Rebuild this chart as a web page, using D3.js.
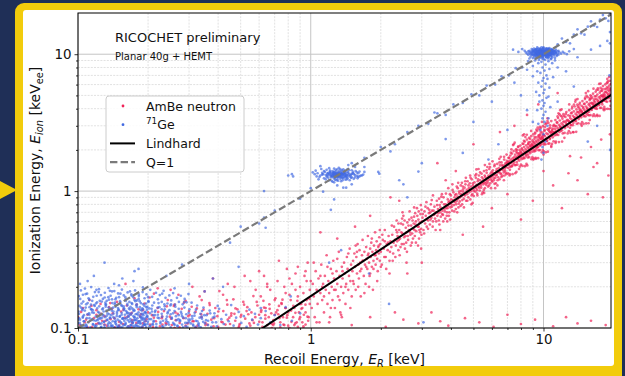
<!DOCTYPE html>
<html>
<head>
<meta charset="utf-8">
<script src="https://cdn.jsdelivr.net/npm/d3@7"></script>
<style>
  html, body { margin: 0; padding: 0; background: #1f2f57; }
  svg { display: block; font-family: "DejaVu Sans", sans-serif; }
</style>
</head>
<body>
<svg id="chart" width="625" height="376"></svg>
<script>
// ---- axes ----
const xTickValues = [0.1, 1, 10];
const xTickLabels = ["0.1", "1", "10"];
const yTickValues = [0.1, 1, 10];
const yTickLabels = ["0.1", "1", "10"];
const xDomain = [0.1, 19.5];
const yDomain = [0.1, 20];

// ---- model curves ----
const lindhardER   = [0.6, 1, 2, 3, 5, 10, 15, 20];
const lindhardEion = [0.096, 0.171, 0.375, 0.594, 1.06, 2.34, 3.73, 5.19];
const qOneER   = [0.1, 20];
const qOneEion = [0.1, 20];

// ---- AmBe neutron events [E_R, E_ion] ----
const ambeBand = [
[0.62,0.11],[0.64,0.14],[0.66,0.12],[0.67,0.19],[0.69,0.105],[0.7,0.16],[0.71,0.13],[0.72,0.22],[0.74,0.11],[0.75,0.15],[0.76,0.12],[0.78,0.18],[0.79,0.27],[0.8,0.13],[0.81,0.1],[0.82,0.16],[0.83,0.21],[0.84,0.12],[0.85,0.14],[0.86,0.25],[0.87,0.11],[0.88,0.17],[0.89,0.13],[0.9,0.2],[0.91,0.15],[0.92,0.11],[0.93,0.18],[0.94,0.24],[0.95,0.13],[0.96,0.16],[0.97,0.3],[0.98,0.12],[0.99,0.19],[0.63,0.24],[0.68,0.1],[0.73,0.31],[0.77,0.105],[0.86,0.19],[0.9,0.12],[0.96,0.22],
[1.01,0.14],[1.02,0.21],[1.03,0.17],[1.04,0.12],[1.05,0.26],[1.06,0.19],[1.07,0.15],[1.08,0.23],[1.09,0.11],[1.1,0.18],[1.11,0.29],[1.12,0.16],[1.13,0.21],[1.14,0.13],[1.15,0.24],[1.16,0.19],[1.17,0.34],[1.18,0.15],[1.19,0.22],[1.2,0.18],[1.21,0.12],[1.22,0.27],[1.23,0.2],[1.24,0.16],[1.25,0.31],[1.26,0.23],[1.27,0.14],[1.28,0.19],[1.29,0.26],[1.3,0.21],[1.31,0.17],[1.32,0.36],[1.33,0.24],[1.34,0.13],[1.35,0.2],[1.36,0.28],[1.37,0.23],[1.38,0.18],[1.39,0.3],[1.4,0.25],[1.41,0.15],[1.42,0.21],[1.43,0.33],[1.44,0.27],[1.45,0.19],[1.46,0.24],[1.47,0.38],[1.48,0.22],[1.49,0.29],[1.5,0.17],
[1.51,0.26],[1.52,0.31],[1.53,0.21],[1.54,0.35],[1.55,0.28],[1.56,0.19],[1.57,0.33],[1.58,0.25],[1.59,0.41],[1.6,0.29],[1.61,0.23],[1.62,0.37],[1.63,0.3],[1.64,0.17],[1.65,0.27],[1.66,0.34],[1.67,0.44],[1.68,0.31],[1.69,0.24],[1.7,0.36],[1.71,0.29],[1.72,0.21],[1.73,0.39],[1.74,0.32],[1.75,0.27],[1.76,0.47],[1.77,0.35],[1.78,0.3],[1.79,0.24],[1.8,0.38],[1.81,0.33],[1.82,0.42],[1.83,0.28],[1.84,0.36],[1.85,0.19],[1.86,0.31],[1.87,0.4],[1.88,0.34],[1.89,0.5],[1.9,0.29],[1.91,0.37],[1.92,0.43],[1.93,0.32],[1.94,0.26],[1.95,0.39],[1.96,0.35],[1.97,0.46],[1.98,0.31],[1.99,0.41],[2.0,0.36],[2.02,0.29],[2.04,0.44],[2.06,0.38],[2.08,0.52],[2.1,0.33],[2.12,0.41],[2.14,0.37],[2.16,0.47],[2.18,0.31],[2.2,0.43],
[2.22,0.39],[2.24,0.48],[2.26,0.35],[2.28,0.55],[2.3,0.44],[2.32,0.4],[2.34,0.61],[2.36,0.47],[2.38,0.37],[2.4,0.52],[2.42,0.45],[2.44,0.58],[2.46,0.41],[2.48,0.49],[2.5,0.66],[2.52,0.46],[2.54,0.38],[2.56,0.54],[2.58,0.5],[2.6,0.59],[2.62,0.44],[2.64,0.52],[2.66,0.71],[2.68,0.48],[2.7,0.56],[2.72,0.42],[2.74,0.61],[2.76,0.53],[2.78,0.65],[2.8,0.47],[2.82,0.57],[2.84,0.51],[2.86,0.75],[2.88,0.55],[2.9,0.62],[2.92,0.45],[2.94,0.59],[2.96,0.68],[2.98,0.53],[3.0,0.6],[2.25,0.31],[2.33,0.52],[2.41,0.34],[2.49,0.57],[2.57,0.42],[2.65,0.62],[2.73,0.49],[2.81,0.69],[2.89,0.4],[2.97,0.79],[2.35,0.43],[2.53,0.61],[2.69,0.4],[2.83,0.6],[2.93,0.52],[2.45,0.5],[2.61,0.47],[2.77,0.58],[2.91,0.71],[2.99,0.48],
[3.02,0.64],[3.05,0.52],[3.08,0.71],[3.1,0.58],[3.12,0.66],[3.15,0.55],[3.18,0.75],[3.2,0.61],[3.22,0.69],[3.25,0.57],[3.28,0.8],[3.3,0.64],[3.32,0.72],[3.35,0.6],[3.38,0.67],[3.4,0.77],[3.42,0.63],[3.45,0.7],[3.48,0.85],[3.5,0.66],[3.52,0.74],[3.55,0.61],[3.58,0.79],[3.6,0.7],[3.62,0.65],[3.65,0.83],[3.68,0.72],[3.7,0.67],[3.72,0.9],[3.75,0.74],[3.78,0.63],[3.8,0.8],[3.82,0.75],[3.85,0.7],[3.88,0.87],[3.9,0.78],[3.92,0.66],[3.95,0.84],[3.98,0.76],[4.0,0.93],[4.02,0.8],[4.05,0.72],[4.08,0.86],[4.1,0.98],[4.12,0.79],[4.15,0.9],[4.18,0.83],[4.2,0.74],[4.22,0.95],[4.25,0.85],[4.28,1.05],[4.3,0.88],[4.32,0.81],[4.35,0.96],[4.38,0.9],[4.4,0.78],[4.42,1.0],[4.45,0.92],[4.48,0.86],[4.5,1.08],[3.14,0.83],[3.44,0.52],[3.66,0.95],[3.86,0.6],[4.06,1.12],[4.26,0.7],[4.46,1.15],[3.26,0.7],[3.56,0.88],[3.96,0.95],
[4.52,0.99],[4.55,0.88],[4.58,1.06],[4.6,0.93],[4.62,1.12],[4.65,0.85],[4.68,1.02],[4.7,0.95],[4.72,1.18],[4.75,0.9],[4.78,1.05],[4.8,0.98],[4.82,1.14],[4.85,0.87],[4.88,1.08],[4.9,1.0],[4.92,1.22],[4.95,0.95],[4.98,1.1],[5.0,1.03],[5.02,0.92],[5.05,1.16],[5.08,1.07],[5.1,0.99],[5.12,1.25],[5.15,1.11],[5.18,1.02],[5.2,0.93],[5.22,1.18],[5.25,1.08],[5.28,1.3],[5.3,1.12],[5.32,1.01],[5.35,1.2],[5.38,1.14],[5.4,1.06],[5.42,1.34],[5.45,1.17],[5.48,0.98],[5.5,1.23],[5.52,1.12],[5.55,1.4],[5.58,1.16],[5.6,1.05],[5.62,1.27],[5.65,1.2],[5.68,1.11],[5.7,1.36],[5.72,1.24],[5.75,1.15],[5.78,1.08],[5.8,1.3],[5.82,1.21],[5.85,1.45],[5.88,1.26],[5.9,1.14],[5.92,1.34],[5.95,1.22],[5.98,1.38],[6.0,1.28],[6.03,1.17],[6.06,1.42],[6.09,1.3],[6.12,1.2],[6.15,1.52],[6.18,1.35],[6.21,1.25],[6.24,1.14],[6.27,1.4],[6.3,1.31],[6.33,1.58],[6.36,1.37],[6.39,1.26],[6.42,1.47],[6.45,1.39],[6.48,1.22],[6.51,1.54],[6.54,1.43],[6.57,1.33],[6.6,1.62],[6.63,1.45],[6.66,1.29],[6.69,1.52],[6.72,1.48],[6.75,1.37],[6.78,1.7],[6.81,1.55],[6.84,1.41],[6.87,1.6],[6.9,1.5],[6.93,1.33],[6.96,1.66],[6.99,1.58],[4.64,1.25],[4.96,0.82],[5.26,1.45],[5.56,0.97],[5.86,1.58],[6.16,1.13],[6.46,1.72],[6.76,1.2],[5.14,1.33],[5.74,1.5],[6.34,1.1],[6.94,1.85],[4.84,1.3],[5.44,0.95],[6.04,1.65],
[7.02,1.62],[7.05,1.48],[7.08,1.75],[7.11,1.55],[7.14,1.66],[7.17,1.43],[7.2,1.82],[7.23,1.6],[7.26,1.7],[7.29,1.52],[7.32,1.88],[7.35,1.65],[7.38,1.74],[7.41,1.57],[7.44,1.96],[7.47,1.69],[7.5,1.78],[7.53,1.55],[7.56,1.85],[7.59,1.72],[7.62,2.02],[7.65,1.76],[7.68,1.63],[7.71,1.9],[7.74,1.8],[7.77,2.1],[7.8,1.73],[7.83,1.86],[7.86,1.67],[7.89,2.0],[7.92,1.83],[7.95,2.15],[7.98,1.77],[8.01,1.92],[8.04,1.71],[8.07,2.05],[8.1,1.87],[8.13,2.22],[8.16,1.82],[8.19,1.98],[8.22,1.75],[8.25,2.1],[8.28,1.93],[8.31,2.3],[8.34,1.88],[8.37,2.03],[8.4,1.8],[8.43,2.16],[8.46,1.98],[8.49,2.38],[8.52,1.92],[8.55,2.09],[8.58,1.84],[8.61,2.22],[8.64,2.04],[8.67,2.45],[8.7,1.97],[8.73,2.14],[8.76,1.89],[8.79,2.28],[8.82,2.1],[8.85,2.52],[8.88,2.02],[8.91,2.2],[8.94,1.94],[8.97,2.35],[9.0,2.15],[9.03,2.6],[9.06,2.07],[9.09,2.26],[9.12,1.99],[9.15,2.41],[9.18,2.21],[9.21,2.68],[9.24,2.12],[9.27,2.32],[9.3,2.04],[9.33,2.47],[9.36,2.27],[9.39,2.75],[9.42,2.17],[9.45,2.38],[9.48,2.1],[9.51,2.54],[9.54,2.33],[9.57,2.83],[9.6,2.23],[9.63,2.44],[9.66,2.15],[9.69,2.6],[9.72,2.4],[9.75,2.9],[9.78,2.28],[9.81,2.5],[9.84,2.2],[9.87,2.67],[9.9,2.46],[9.93,2.98],[9.96,2.34],[9.99,2.56],[10.05,2.26],[10.1,2.75],[10.15,2.52],[10.2,3.08],[10.25,2.4],[10.3,2.64],[10.35,2.33],[10.4,2.83],[10.45,2.6],[10.5,3.15],[10.55,2.48],[10.6,2.72],[10.65,2.4],[10.7,2.9],[10.75,2.68],[10.8,3.25],[10.85,2.55],[10.9,2.8],[10.95,2.47],[11.0,3.0],[7.15,1.3],[7.45,2.2],[7.85,1.45],[8.15,2.55],[8.45,1.58],[8.85,2.75],[9.25,1.75],[9.65,2.95],[10.0,1.85],[10.4,3.4],[10.8,2.1],[7.65,1.38],[9.05,1.7],[9.85,3.2],[8.25,2.6],
[11.05,2.7],[11.1,3.05],[11.15,2.55],[11.2,2.85],[11.25,3.3],[11.3,2.75],[11.35,2.98],[11.4,2.62],[11.45,3.18],[11.5,2.88],[11.55,3.42],[11.6,2.8],[11.65,3.05],[11.7,2.7],[11.75,3.28],[11.8,2.98],[11.85,3.55],[11.9,2.9],[11.95,3.12],[12.0,2.78],[12.06,3.38],[12.12,3.06],[12.18,3.65],[12.24,2.98],[12.3,3.22],[12.36,2.88],[12.42,3.48],[12.48,3.15],[12.54,3.78],[12.6,3.06],[12.66,3.32],[12.72,2.96],[12.78,3.58],[12.84,3.25],[12.9,3.9],[12.96,3.15],[13.02,3.42],[13.08,3.05],[13.14,3.7],[13.2,3.35],[13.26,4.02],[13.32,3.25],[13.38,3.55],[13.44,3.15],[13.5,3.82],[13.56,3.46],[13.62,4.15],[13.68,3.36],[13.74,3.66],[13.8,3.25],[13.86,3.95],[13.92,3.57],[13.98,4.28],[14.04,3.46],[14.1,3.78],[14.16,3.36],[14.22,4.08],[14.28,3.68],[14.34,4.42],[14.4,3.56],[14.46,3.9],[14.52,3.46],[14.58,4.2],[14.64,3.8],[14.7,4.55],[14.76,3.67],[14.82,4.02],[14.88,3.57],[14.94,4.33],[15.0,3.92],[15.07,4.7],[15.14,3.8],[15.21,4.15],[15.28,3.68],[15.35,4.47],[15.42,4.05],[15.49,4.85],[15.56,3.92],[15.63,4.28],[15.7,3.8],[15.77,4.62],[15.84,4.18],[15.91,5.0],[15.98,4.05],[16.05,4.42],[16.12,3.92],[16.19,4.77],[16.26,4.32],[16.33,5.15],[16.4,4.18],[16.47,4.56],[16.54,4.05],[16.61,4.92],[16.68,4.46],[16.75,5.32],[16.82,4.3],[16.89,4.7],[16.96,4.18],[17.03,5.08],[17.1,4.6],[17.17,5.5],[17.24,4.44],[17.31,4.84],[17.38,4.3],[17.45,5.24],[17.52,4.74],[17.59,5.68],[17.66,4.58],[17.73,5.0],[17.8,4.44],[17.87,5.4],[17.94,4.9],[18.01,5.85],[18.08,4.72],[18.15,5.15],[18.22,4.58],[18.29,5.56],[18.36,5.05],[18.43,6.02],[18.5,4.86],[18.57,5.3],[18.64,4.72],[18.71,5.72],[18.78,5.2],[18.85,6.2],[18.92,5.0],[18.99,5.46],[19.06,4.86],[19.13,5.9],[19.2,5.36],[19.27,6.4],[19.34,5.15],[19.41,5.62],[19.48,5.0],[19.55,6.05],[19.62,5.5],
[11.3,2.3],[11.8,3.9],[12.3,2.45],[12.9,4.3],[13.4,2.7],[14.0,4.7],[14.6,3.0],[15.2,5.2],[15.8,3.3],[16.4,5.6],[17.0,3.6],[17.6,6.1],[18.2,3.9],[18.8,6.6],[19.4,4.2],[12.0,3.5],[13.0,2.9],[14.3,3.95],[15.5,3.6],[16.7,4.1],[18.0,5.0],[19.0,5.7],[11.6,3.7],[13.7,4.5],[15.9,4.7],[17.9,4.3]
];

const ambeBandMore = [
[0.61,0.17],[0.65,0.21],[0.7,0.125],[0.73,0.145],[0.77,0.2],[0.81,0.23],[0.85,0.105],[0.88,0.28],[0.92,0.14],[0.95,0.26],[0.99,0.15],[1.03,0.3],[1.06,0.11],[1.1,0.24],[1.14,0.17],[1.18,0.28],[1.22,0.14],[1.26,0.19],[1.3,0.32],[1.33,0.16],[1.37,0.26],[1.41,0.2],[1.45,0.35],[1.48,0.14],[1.12,0.2],[1.24,0.25],[1.36,0.12],[0.78,0.14],[0.93,0.1],[1.0,0.22],
[1.52,0.22],[1.56,0.4],[1.6,0.2],[1.63,0.26],[1.67,0.31],[1.7,0.18],[1.73,0.28],[1.76,0.34],[1.8,0.25],[1.83,0.45],[1.86,0.27],[1.9,0.34],[1.93,0.22],[1.96,0.4],[2.0,0.28],[2.03,0.48],[2.07,0.33],[2.11,0.27],[2.15,0.42],[2.19,0.36],[2.23,0.56],[2.27,0.42],[2.31,0.33],[2.35,0.5],[2.39,0.44],[2.43,0.39],[2.47,0.63],[2.51,0.41],[2.55,0.47],[2.59,0.36],[2.63,0.56],[2.67,0.5],[2.71,0.64],[2.75,0.45],[2.79,0.52],[2.83,0.42],[2.87,0.66],[2.91,0.55],[2.95,0.5],[2.99,0.73],[1.58,0.36],[1.78,0.2],[1.98,0.52],[2.18,0.25],[2.38,0.58],[2.58,0.3],[2.78,0.76],[2.98,0.38],[2.48,0.7],[2.08,0.43],
[3.03,0.68],[3.07,0.49],[3.11,0.77],[3.16,0.62],[3.19,0.53],[3.23,0.73],[3.27,0.62],[3.31,0.86],[3.34,0.55],[3.37,0.72],[3.41,0.68],[3.46,0.6],[3.49,0.79],[3.53,0.69],[3.57,0.57],[3.61,0.76],[3.64,0.91],[3.67,0.68],[3.71,0.6],[3.74,0.8],[3.77,0.71],[3.81,0.96],[3.84,0.66],[3.87,0.75],[3.91,0.83],[3.94,0.7],[3.97,0.62],[4.01,0.87],[4.04,0.77],[4.07,1.02],[4.11,0.84],[4.14,0.71],[4.17,0.94],[4.21,0.8],[4.24,1.08],[4.27,0.91],[4.31,0.76],[4.34,0.99],[4.37,0.84],[4.41,1.1],[4.44,0.95],[4.47,0.8],[4.51,1.03],[4.56,0.94],[4.61,1.18],[4.66,0.98],[4.71,0.85],[4.76,1.1],[4.81,1.02],[4.86,1.25],[4.91,0.93],[4.97,1.14],[5.03,1.0],[5.09,1.3],[5.13,1.05],[5.19,0.96],[5.24,1.22],[5.29,1.06],[5.34,1.37],[5.39,1.1],[5.44,1.26],[5.49,1.15],[5.54,1.02],[5.59,1.3],[5.64,1.14],[5.69,1.42],[5.74,1.18],[5.79,1.26],[5.84,1.1],[5.89,1.5],[5.94,1.28],[5.99,1.19],[6.05,1.36],[6.11,1.24],[6.17,1.56],[6.23,1.3],[6.29,1.45],[6.35,1.2],[6.41,1.38],[6.47,1.62],[6.53,1.35],[6.59,1.27],[6.65,1.55],[6.71,1.42],[6.77,1.78],[6.83,1.47],[6.89,1.36],[6.95,1.6],[3.6,0.52],[4.3,1.15],[4.9,0.8],[5.6,1.55],[6.2,1.05],[6.8,1.3],[3.35,0.93],[4.55,0.76],[5.15,1.44],[5.95,1.05],[6.55,1.78],[3.9,1.05],
[7.04,1.35],[7.12,1.75],[7.2,1.5],[7.28,2.02],[7.36,1.33],[7.44,1.68],[7.52,2.26],[7.6,1.55],[7.68,2.0],[7.76,1.71],[7.84,1.89],[7.92,1.51],[8.0,1.56],[8.08,2.01],[8.16,1.73],[8.24,2.33],[8.32,1.52],[8.4,1.92],[8.48,2.58],[8.56,1.76],[8.64,2.28],[8.72,1.94],[8.8,2.14],[8.88,1.71],[8.96,1.77],[9.04,2.29],[9.12,1.95],[9.2,2.63],[9.28,1.72],[9.36,2.17],[9.44,2.91],[9.52,1.99],[9.6,2.56],[9.68,2.18],[9.76,2.41],[9.84,1.92],[9.92,2.0],[10.0,2.57],[10.08,2.19],[10.16,2.95],[10.24,1.92],[10.32,2.42],[10.4,3.25],[10.48,2.22],[10.56,2.86],[10.64,2.43],[10.72,2.68],[10.8,2.14],[10.88,2.21],[10.96,2.86],
[7.08,1.63],[7.16,1.33],[7.24,1.91],[7.32,1.52],[7.4,2.17],[7.48,1.62],[7.56,1.35],[7.64,1.94],[7.72,1.56],[7.8,2.12],[7.88,1.79],[7.96,1.94],[8.04,1.87],[8.12,1.53],[8.2,2.21],[8.28,1.74],[8.36,2.48],[8.44,1.85],[8.52,1.54],[8.6,2.21],[8.68,1.77],[8.76,2.41],[8.84,2.03],[8.92,2.19],[9.0,2.13],[9.08,1.73],[9.16,2.49],[9.24,1.97],[9.32,2.81],[9.4,2.09],[9.48,1.74],[9.56,2.49],[9.64,1.99],[9.72,2.71],[9.8,2.28],[9.88,2.46],[9.96,2.4],[10.04,1.95],[10.12,2.8],[10.2,2.2],[10.28,3.13],[10.36,2.33],[10.44,1.94],[10.52,2.78],[10.6,2.23],[10.68,3.02],[10.76,2.54],[10.84,2.74],[10.92,2.66],
[11.05,2.31],[11.2,2.98],[11.35,2.57],[11.5,3.51],[11.65,2.28],[11.8,2.93],[11.95,3.95],[12.1,2.64],[12.25,3.53],[12.4,2.95],[12.55,3.26],[12.7,2.64],[12.85,2.74],[13.0,3.53],[13.15,3.03],[13.3,4.15],[13.45,2.69],[13.6,3.45],[13.75,4.65],[13.9,3.1],[14.05,4.14],[14.2,3.47],[14.35,3.82],[14.5,3.08],[14.65,3.19],[14.8,4.11],[14.95,3.52],[15.1,4.81],[15.25,3.12],[15.4,3.99],[15.55,5.37],[15.7,3.58],[15.85,4.76],[16.0,3.96],[16.15,4.37],[16.3,3.53],[16.45,3.64],[16.6,4.68],[16.75,4.01],[16.9,5.47],[17.05,3.53],[17.2,4.53],[17.35,6.07],[17.5,4.05],[17.65,5.39],[17.8,4.49],[17.95,4.95],[18.1,3.98],[18.25,4.12],[18.4,5.29],[18.55,4.53],[18.7,6.16],[18.85,3.99],[19.0,5.1],[19.15,6.83],[19.3,4.55],[19.45,6.06],
[11.12,2.69],[11.27,2.25],[11.42,3.16],[11.57,2.57],[11.72,3.64],[11.87,2.75],[12.02,2.3],[12.17,3.21],[12.32,2.66],[12.47,3.66],[12.62,3.05],[12.77,3.28],[12.92,3.19],[13.07,2.66],[13.22,3.74],[13.37,3.03],[13.52,4.29],[13.67,3.25],[13.82,2.71],[13.97,3.77],[14.12,3.13],[14.27,4.29],[14.42,3.56],[14.57,3.82],[14.72,3.72],[14.87,3.1],[15.02,4.34],[15.17,3.52],[15.32,4.97],[15.47,3.75],[15.62,3.13],[15.77,4.35],[15.92,3.59],[16.07,4.92],[16.22,4.07],[16.37,4.37],[16.52,4.24],[16.67,3.53],[16.82,4.93],[16.97,3.99],[17.12,5.64],[17.27,4.25],[17.42,3.54],[17.57,4.92],[17.72,4.06],[17.87,5.56],[18.02,4.6],[18.17,4.93],[18.32,4.79],[18.47,3.98],[18.62,5.56],[18.77,4.49],[18.92,6.34],[19.07,4.77],[19.22,3.98],[19.37,5.52],[19.52,4.55]
];

const ambeLow = [
[0.1,0.12],[0.102,0.105],[0.105,0.14],[0.107,0.11],[0.11,0.125],[0.112,0.16],[0.115,0.102],[0.117,0.118],[0.12,0.135],[0.122,0.108],[0.125,0.15],[0.127,0.113],[0.13,0.122],[0.133,0.104],[0.136,0.142],[0.138,0.116],[0.141,0.128],[0.144,0.101],[0.147,0.155],[0.15,0.111],[0.153,0.132],[0.156,0.107],[0.159,0.119],[0.162,0.146],[0.165,0.103],[0.168,0.126],[0.171,0.114],[0.175,0.165],[0.178,0.109],[0.182,0.137],[0.185,0.121],[0.189,0.102],[0.193,0.151],[0.197,0.116],[0.2,0.13],[0.204,0.106],[0.208,0.124],[0.212,0.178],[0.216,0.112],[0.22,0.14],[0.225,0.103],[0.229,0.118],[0.234,0.133],[0.238,0.109],[0.243,0.16],[0.248,0.121],[0.253,0.105],[0.258,0.145],[0.263,0.114],[0.268,0.127],[0.273,0.101],[0.279,0.138],[0.284,0.118],[0.29,0.158],[0.296,0.108],[0.302,0.125],[0.308,0.143],[0.314,0.112],[0.32,0.131],[0.326,0.104],[0.333,0.17],[0.339,0.12],[0.346,0.136],[0.353,0.109],[0.36,0.127],[0.367,0.152],[0.374,0.115],[0.382,0.103],[0.389,0.14],[0.397,0.122],[0.405,0.186],[0.413,0.111],[0.421,0.133],[0.43,0.106],[0.438,0.148],[0.447,0.119],[0.456,0.128],[0.465,0.162],[0.474,0.113],[0.484,0.137],[0.493,0.104],[0.503,0.125],[0.513,0.155],[0.523,0.117],[0.534,0.142],[0.545,0.108],[0.556,0.13],[0.567,0.171],[0.578,0.12],[0.59,0.146],[0.601,0.111],[0.613,0.135],[0.626,0.158],[0.638,0.124],[0.651,0.105],[0.664,0.149],[0.677,0.128],[0.691,0.114],[0.705,0.165],[0.719,0.135],[0.733,0.118],[0.748,0.152],[0.763,0.106],[0.778,0.14],[0.793,0.124],[0.81,0.175],[0.826,0.111],[0.842,0.145],[0.859,0.129],[0.876,0.158],[0.894,0.116],[0.912,0.138],[0.93,0.103],[0.949,0.148],[0.968,0.121],[0.988,0.163],
[0.16,0.21],[0.25,0.19],[0.31,0.2],[0.38,0.23],[0.44,0.21],[0.52,0.24],[0.58,0.19],[0.47,0.2],[0.35,0.185],[0.27,0.175],[0.22,0.195],[0.6,0.26],[0.55,0.22],[0.65,0.2],[0.42,0.175],
[0.11,0.101],[0.13,0.106],[0.15,0.103],[0.17,0.101],[0.19,0.108],[0.21,0.102],[0.24,0.107],[0.26,0.1],[0.29,0.104],[0.32,0.101],[0.36,0.106],[0.4,0.102],[0.45,0.107],[0.49,0.101],[0.55,0.104],[0.62,0.102],[0.68,0.107],[0.74,0.101],[0.8,0.104],[0.88,0.102],[0.95,0.106],
[1.2,0.11],[1.5,0.105],[1.8,0.12],[2.1,0.102],[2.5,0.115],[2.9,0.108],[3.3,0.13],[3.9,0.104],[4.6,0.118],[5.3,0.11],[6.1,0.102],[7,0.125],[8,0.107],[9.2,0.115],[11,0.103],[12.5,0.12],[14,0.108],[16,0.113],[18.5,0.105],[1.35,0.125],[2.3,0.13],[3.6,0.112],
[0.1031,0.131],[0.1083,0.115],[0.1142,0.145],[0.1196,0.107],[0.1257,0.127],[0.1313,0.113],[0.1376,0.152],[0.1433,0.118],[0.1502,0.104],[0.1566,0.136],[0.1634,0.121],[0.1709,0.109],[0.1787,0.148],[0.1862,0.126],[0.1947,0.112],[0.2031,0.167],[0.2118,0.119],[0.2211,0.131],[0.2306,0.106],[0.2407,0.144],[0.2511,0.117],[0.2621,0.13],[0.2735,0.109],[0.2853,0.153],[0.2977,0.122],[0.3106,0.112],[0.3241,0.139],[0.3382,0.126],[0.3529,0.105],[0.3682,0.147],[0.3841,0.118],[0.4007,0.132],[0.418,0.11],[0.436,0.16],[0.455,0.123],[0.475,0.139],[0.495,0.107],[0.517,0.148],[0.539,0.126],[0.562,0.114],[0.586,0.155],[0.612,0.131],[0.638,0.117],[0.666,0.138],[0.695,0.108],[0.725,0.126],[0.756,0.161],[0.789,0.119],[0.823,0.134],[0.858,0.108],[0.895,0.15],[0.934,0.125],[0.975,0.113],[0.44,0.115],[0.47,0.127],[0.5,0.121],[0.53,0.133],[0.57,0.109],[0.6,0.125],[0.63,0.141],[0.34,0.16],[0.3,0.133],[0.26,0.148],[0.23,0.121],[0.19,0.135],[0.17,0.129],[0.14,0.138],[0.12,0.125]
];

const ambeStray = [
[1.8,0.66],[1.55,0.55],[2.2,0.9],[3.5,1.6],[4.2,1.4],[5,2.2],[6.5,2.7],[8,0.62],[9,0.85],[11,1.1],[12,0.75],[14,1.2],[15.5,0.95],[17,1.6],[19,1.3],[18,0.9],[16,2.1],[13,1.8],[10,1.4],[7,0.95],[6,0.75],[5.5,0.55],[4.5,0.48],[3,0.3],[2.6,0.25],[8.5,3.6],[9.5,4.3],[11.5,5.2],[7.5,3.0],[19.6,8.5],[3.8,1.2],[2.4,0.85],[1.3,0.45],[1.1,0.5],[14.5,1.76],[16.4,1.5],[17.7,2.38],[12.8,1.35],[19.3,2.6]
];

// ---- 71Ge events [E_R, E_ion] ----
const geLow = [
[0.1,0.108],[0.101,0.127],[0.102,0.115],[0.103,0.141],[0.104,0.103],[0.105,0.121],[0.106,0.112],[0.107,0.134],[0.108,0.106],[0.109,0.118],[0.11,0.152],[0.111,0.11],[0.112,0.125],[0.113,0.101],[0.114,0.137],[0.115,0.116],[0.116,0.107],[0.117,0.129],[0.118,0.145],[0.119,0.113],[0.12,0.104],[0.121,0.122],[0.122,0.131],[0.123,0.109],[0.124,0.158],[0.125,0.117],[0.126,0.102],[0.127,0.126],[0.128,0.139],[0.129,0.111],[0.13,0.105],[0.131,0.12],[0.132,0.148],[0.133,0.114],[0.134,0.128],[0.135,0.103],[0.136,0.136],[0.137,0.119],[0.138,0.108],[0.139,0.124],[0.14,0.162],[0.141,0.112],[0.142,0.132],[0.143,0.101],[0.144,0.117],[0.145,0.143],[0.146,0.106],[0.147,0.127],[0.148,0.115],[0.149,0.135],[0.15,0.104],[0.151,0.121],[0.152,0.153],[0.153,0.11],[0.154,0.129],[0.155,0.102],[0.156,0.118],[0.157,0.14],[0.158,0.113],[0.159,0.125],[0.16,0.107],[0.161,0.133],[0.162,0.119],[0.163,0.146],[0.164,0.103],[0.165,0.123],[0.166,0.111],[0.167,0.137],[0.168,0.116],[0.169,0.105],[0.17,0.128],[0.171,0.15],[0.172,0.109],[0.173,0.122],[0.174,0.101],[0.175,0.134],[0.176,0.114],[0.177,0.126],[0.178,0.106],[0.179,0.142],[0.18,0.118],[0.181,0.103],[0.182,0.13],[0.183,0.112],[0.184,0.157],[0.185,0.121],[0.186,0.108],[0.187,0.127],[0.188,0.115],[0.189,0.139],[0.19,0.104],[0.191,0.124],[0.192,0.11],[0.193,0.145],[0.194,0.117],[0.195,0.131],[0.196,0.102],[0.197,0.12],[0.198,0.136],[0.199,0.107],
[0.1,0.115],[0.103,0.105],[0.106,0.124],[0.109,0.102],[0.112,0.118],[0.115,0.13],[0.118,0.104],[0.121,0.114],[0.124,0.107],[0.127,0.119],[0.13,0.101],[0.133,0.123],[0.136,0.11],[0.139,0.104],[0.142,0.12],[0.145,0.108],[0.148,0.102],[0.151,0.113],[0.154,0.125],[0.157,0.105],[0.16,0.117],[0.163,0.101],[0.166,0.128],[0.169,0.112],[0.172,0.104],[0.175,0.12],[0.178,0.115],[0.181,0.109],[0.184,0.102],[0.187,0.118],[0.19,0.127],[0.193,0.106],[0.196,0.113],[0.199,0.121],
[0.202,0.116],[0.205,0.104],[0.208,0.132],[0.211,0.111],[0.214,0.124],[0.217,0.102],[0.22,0.141],[0.223,0.118],[0.226,0.108],[0.229,0.127],[0.232,0.113],[0.235,0.149],[0.238,0.105],[0.241,0.121],[0.244,0.11],[0.247,0.135],[0.25,0.101],[0.253,0.117],[0.256,0.128],[0.259,0.107],[0.262,0.143],[0.265,0.114],[0.268,0.103],[0.271,0.124],[0.274,0.112],[0.277,0.131],[0.28,0.106],[0.283,0.119],[0.286,0.155],[0.289,0.109],[0.292,0.126],[0.295,0.102],[0.298,0.115],[0.301,0.137],[0.305,0.108],[0.309,0.122],[0.313,0.104],[0.317,0.129],[0.321,0.113],[0.325,0.146],[0.329,0.106],[0.333,0.119],[0.337,0.101],[0.341,0.133],[0.345,0.111],[0.349,0.124],[0.21,0.106],[0.22,0.119],[0.23,0.103],[0.24,0.112],[0.25,0.126],[0.26,0.105],[0.27,0.116],[0.28,0.122],[0.29,0.103],[0.3,0.111],[0.31,0.117],[0.32,0.102],[0.33,0.108],[0.34,0.121],
[0.355,0.114],[0.362,0.105],[0.37,0.128],[0.378,0.11],[0.386,0.121],[0.395,0.103],[0.404,0.138],[0.413,0.116],[0.423,0.107],[0.433,0.125],[0.444,0.112],[0.455,0.147],[0.466,0.104],[0.478,0.119],[0.49,0.131],[0.503,0.109],[0.516,0.122],[0.53,0.102],[0.545,0.136],[0.56,0.115],[0.576,0.127],[0.593,0.106],[0.61,0.118],[0.64,0.133],[0.67,0.11],[0.7,0.124],[0.74,0.105],[0.78,0.142],[0.83,0.113],[0.9,0.128],
[0.105,0.175],[0.12,0.19],[0.135,0.168],[0.15,0.205],[0.14,0.185],[0.17,0.172],[0.19,0.198],[0.2,0.168],[0.23,0.178],[0.26,0.195],[0.155,0.23],[0.24,0.24],[0.3,0.21],[0.35,0.185],[0.175,0.26],[0.28,0.29],[0.11,0.22],[0.49,0.28],[0.13,0.3],[0.42,0.2],[0.117,0.24],[0.182,0.27],[0.173,0.22],[0.102,0.21],[0.143,0.21],[0.38,0.23],
[0.1005,0.132],[0.1017,0.109],[0.1036,0.151],[0.1048,0.119],[0.1067,0.103],[0.1079,0.141],[0.1098,0.126],[0.111,0.165],[0.1129,0.113],[0.1141,0.137],[0.116,0.106],[0.1172,0.147],[0.1191,0.121],[0.1203,0.172],[0.1222,0.116],[0.1234,0.129],[0.1253,0.101],[0.1265,0.156],[0.1284,0.124],[0.1296,0.111],[0.1315,0.143],[0.1327,0.134],[0.1346,0.107],[0.1358,0.161],[0.1377,0.118],[0.1389,0.138],[0.1408,0.104],[0.142,0.127],[0.1439,0.149],[0.1451,0.112],[0.147,0.131],[0.1482,0.102],[0.1501,0.168],[0.1513,0.122],[0.1532,0.108],[0.1544,0.145],[0.1563,0.117],[0.1575,0.135],[0.1594,0.105],[0.1606,0.158],[0.1625,0.128],[0.1637,0.114],[0.1656,0.139],[0.1668,0.102],[0.1687,0.125],[0.1699,0.152],[0.1718,0.11],[0.173,0.133],[0.1749,0.119],[0.1761,0.104],[0.178,0.146],[0.1792,0.127],[0.1811,0.112],[0.1823,0.163],[0.1842,0.108],[0.1854,0.136],[0.1873,0.121],[0.1885,0.101],[0.1904,0.149],[0.1916,0.115],[0.1935,0.13],[0.1947,0.106],[0.1966,0.142],[0.1978,0.123],[0.1997,0.111],[0.2009,0.155],[0.2028,0.103],[0.204,0.128],[0.2059,0.116],[0.2071,0.138],[0.209,0.107],[0.2102,0.124],
[0.1011,0.118],[0.1042,0.135],[0.1061,0.112],[0.1089,0.104],[0.1115,0.128],[0.1137,0.148],[0.1166,0.114],[0.1188,0.102],[0.1209,0.139],[0.1239,0.119],[0.1261,0.108],[0.1289,0.132],[0.1311,0.153],[0.1339,0.115],[0.1362,0.126],[0.1393,0.103],[0.1416,0.141],[0.1443,0.111],[0.1467,0.122],[0.1496,0.136],[0.1521,0.101],[0.1549,0.117],[0.1571,0.144],[0.1601,0.109],[0.1628,0.13],[0.1652,0.121],[0.1683,0.105],[0.1709,0.139],[0.1736,0.114],[0.1765,0.157],[0.1789,0.103],[0.1819,0.124],[0.1846,0.112],[0.1877,0.134],[0.1903,0.118],[0.1931,0.106],[0.1958,0.128],[0.1986,0.143],[0.1022,0.163],[0.1078,0.177],[0.1151,0.158],[0.1227,0.183],[0.1302,0.167],[0.1371,0.187],[0.1447,0.162],[0.1521,0.178],[0.1598,0.168],[0.1672,0.185],[0.1748,0.16],[0.1825,0.176],
[0.2115,0.113],[0.2142,0.131],[0.2171,0.107],[0.2203,0.125],[0.2236,0.142],[0.2262,0.111],[0.2298,0.121],[0.2327,0.102],[0.2359,0.137],[0.2391,0.116],[0.2425,0.128],[0.2458,0.106],[0.2494,0.146],[0.2527,0.119],[0.2563,0.109],[0.2599,0.133],[0.2634,0.122],[0.2672,0.104],[0.2709,0.138],[0.2745,0.114],[0.2786,0.127],[0.2823,0.101],[0.2864,0.141],[0.2904,0.118],[0.2946,0.109],[0.2988,0.129],[0.3031,0.115],[0.3076,0.153],[0.3119,0.106],[0.3165,0.123],[0.3212,0.136],[0.3259,0.112],[0.3307,0.103],[0.3358,0.127],[0.341,0.117],[0.3461,0.141],[0.3513,0.108],[0.3568,0.124],[0.3622,0.113],[0.3679,0.134],[0.3737,0.102],[0.3796,0.119],[0.3856,0.128],[0.3918,0.11],[0.3981,0.145],
[0.1008,0.171],[0.1029,0.188],[0.1053,0.156],[0.1071,0.194],[0.1094,0.178],[0.1118,0.161],[0.1139,0.199],[0.1163,0.169],[0.1182,0.183],[0.1207,0.154],[0.1231,0.192],[0.1255,0.174],[0.1279,0.163],[0.1304,0.181],[0.1329,0.158],[0.1352,0.196],[0.1381,0.172],[0.1405,0.152],[0.1432,0.186],[0.1459,0.166],[0.1487,0.179],[0.1516,0.157],[0.1544,0.191],[0.1573,0.173],[0.1603,0.162],[0.1634,0.182],[0.1663,0.155],[0.1695,0.176],[0.1727,0.168],[0.1759,0.188],[0.1792,0.159],[0.1826,0.171],[0.1861,0.152],[0.1896,0.183],[0.1932,0.165],[0.1968,0.176],[0.2006,0.157],[0.2044,0.19],[0.2083,0.169],[0.2122,0.153],[0.2163,0.181],[0.2204,0.162],[0.2246,0.174],[0.2289,0.155],[0.2332,0.187],[0.2377,0.166],[0.2422,0.151],[0.2468,0.173],[0.2515,0.159],[0.2563,0.18],[0.2612,0.148],[0.2662,0.166],[0.2713,0.155],[0.2765,0.172],[0.2818,0.149],[0.2872,0.163],[0.2927,0.154],[0.2983,0.177],
[0.1015,0.145],[0.1047,0.138],[0.1084,0.149],[0.1121,0.142],[0.1158,0.135],[0.1195,0.151],[0.1233,0.144],[0.1272,0.137],[0.1313,0.148],[0.1354,0.141],[0.1396,0.134],[0.1441,0.153],[0.1486,0.14],[0.1533,0.147],[0.1581,0.138],[0.163,0.15],[0.1681,0.143],[0.1734,0.136],[0.1788,0.149],[0.1844,0.142],[0.1902,0.137],[0.1961,0.151],[0.2023,0.139],[0.2086,0.146],[0.2151,0.134],[0.2218,0.152],[0.2288,0.137],[0.2359,0.144],[0.2433,0.131],[0.2509,0.149]
];

const geLine13 = [
[1.3,1.31],[1.28,1.34],[1.33,1.29],[1.25,1.32],[1.36,1.35],[1.22,1.28],[1.4,1.3],[1.31,1.38],[1.27,1.25],[1.34,1.33],[1.19,1.36],[1.43,1.27],[1.29,1.3],[1.24,1.4],[1.38,1.24],[1.32,1.36],[1.16,1.31],[1.46,1.33],[1.26,1.29],[1.35,1.27],[1.21,1.34],[1.41,1.37],[1.3,1.22],[1.37,1.31],[1.23,1.26],[1.48,1.3],[1.13,1.33],[1.33,1.41],[1.28,1.28],[1.39,1.34],[1.18,1.29],[1.44,1.24],[1.25,1.37],[1.31,1.26],[1.36,1.39],[1.2,1.32],[1.52,1.35],[1.1,1.3],[1.29,1.35],[1.42,1.29],[1.26,1.33],[1.34,1.23],[1.15,1.38],[1.47,1.28],[1.3,1.44],[1.22,1.3],[1.4,1.33],[1.27,1.21],[1.55,1.31],[1.07,1.35],[1.35,1.3],[1.24,1.34],[1.32,1.27],[1.45,1.36],[1.17,1.27],[1.38,1.28],[1.28,1.39],[1.5,1.26],[1.12,1.32],[1.33,1.34],[1.21,1.38],[1.43,1.31],[1.3,1.28],[1.36,1.42],[1.04,1.33],[1.58,1.29],[1.26,1.24],[1.39,1.37],[1.19,1.25],[1.34,1.32],[1.6,1.35],[1.02,1.37],[1.41,1.26],[1.23,1.31],[1.31,1.33],[1.37,1.25],[1.14,1.4],[1.49,1.32],[1.27,1.36],[1.35,1.34],[1.62,1.28],[1.09,1.27],[1.29,1.32],[1.44,1.38],[1.18,1.35],[1.53,1.33],[1.25,1.28],[1.32,1.3],
[1.05,1.41],[1.08,1.22],[1.11,1.45],[1.14,1.24],[1.17,1.43],[1.2,1.47],[1.23,1.19],[1.26,1.46],[1.29,1.2],[1.32,1.48],[1.35,1.18],[1.38,1.44],[1.41,1.21],[1.44,1.45],[1.47,1.2],[1.5,1.42],[1.53,1.23],[1.56,1.4],[1.59,1.24],[1.62,1.39],[1.64,1.3],[1.06,1.28],[1.12,1.36],[1.16,1.22],[1.21,1.41],[1.24,1.17],[1.28,1.43],[1.31,1.19],[1.34,1.45],[1.37,1.2],[1.4,1.41],[1.43,1.22],[1.46,1.42],[1.49,1.25],[1.52,1.38],[1.55,1.26],[1.58,1.37],[1.6,1.27],[1.25,1.35],[1.28,1.31],[1.31,1.29],[1.34,1.37],[1.37,1.33],[1.4,1.28],[1.27,1.3],[1.33,1.31],[1.36,1.32],[1.29,1.27],[1.24,1.29],[1.38,1.35],[1.42,1.33],[1.22,1.36],[1.3,1.35],[1.35,1.26],[1.32,1.33],[1.26,1.38],[1.4,1.39],[1.45,1.3],[1.18,1.32],[1.5,1.34],
[1.3,1.1],[1.38,1.06],[1.42,1.06],[1.26,1.16],[1.2,1.2],[0.83,1.33],[0.8,1.3],[1.7,1.5],[1.68,1.32],[1.66,1.3],[1.7,1.38],[1.95,1.38],[1.97,1.34],[1.1,1.52],[1.55,1.5],[1.45,1.55],[1.5,1.12]
];

const geLine10 = [
[9.9,10.2],[10.1,10.3],[9.7,10.1],[10.3,10.0],[9.5,10.4],[10.5,10.2],[9.8,9.9],[10.0,10.5],[9.3,10.2],[10.7,10.1],[9.6,10.3],[10.2,9.8],[9.9,10.6],[10.4,10.4],[9.2,9.9],[10.9,10.3],[9.7,10.0],[10.1,10.1],[9.4,10.6],[10.6,9.9],[9.8,10.4],[10.3,10.6],[9.1,10.3],[11.1,10.0],[9.9,9.7],[10.0,10.2],[9.5,9.8],[10.8,10.5],[9.6,10.5],[10.2,10.3],[9.0,10.1],[11.3,10.2],[9.8,10.2],[10.4,9.9],[9.3,10.5],[10.6,10.3],[9.7,9.8],[10.1,10.7],[8.9,10.4],[11.5,10.1],[10.0,9.9],[9.4,10.1],[10.7,10.6],[9.6,10.0],[10.3,10.2],[9.9,10.4],[8.8,10.0],[11.0,10.4],[9.2,10.7],[10.5,9.7],[9.8,10.6],[10.2,10.0],[9.5,10.2],[10.9,10.0],[8.7,10.2],[11.7,10.3],[9.7,10.4],[10.4,10.7],[9.1,9.8],[10.8,9.8],[10.0,10.4],[9.6,9.7],[10.2,10.5],[9.3,10.0],[11.2,10.6],[9.9,10.0],[8.6,10.5],[11.9,10.1],[10.1,9.9],[9.4,10.4],[10.6,10.1],[9.8,9.8],[10.3,10.4],[9.0,10.6],[11.4,9.9],[9.7,10.7],[10.5,10.5],[9.5,10.0],[10.0,10.1],[8.5,10.1],[12.1,10.4],[10.2,10.2],[9.6,10.6],[10.7,9.9],[9.2,10.1],[11.1,10.5],[9.9,10.3],[10.4,10.1],[9.4,9.8],[10.8,10.2],[8.9,9.9],[11.6,10.6],[9.8,10.0],[10.1,10.4],[9.3,10.3],[10.6,10.6],[9.7,10.2],[10.3,9.8],[9.1,10.5],[11.0,10.1],[10.0,10.6],[9.5,10.5],[10.2,9.9],[9.9,10.1],[8.4,10.3],[12.3,10.2],[9.6,10.1],[10.5,10.0],[9.2,10.4],[10.9,10.7],[10.1,10.0],[9.8,10.5],[10.4,10.3],[9.0,9.9],[11.3,10.4],[9.7,9.9],[10.6,10.4],[9.4,10.2],[10.0,10.3],[9.9,10.8],[10.2,10.8],[9.6,10.8],[10.5,10.8],[9.3,10.8],[10.8,10.8],[10.0,11.1],[9.5,11.0],[10.4,11.0],[9.8,11.2],[8.3,10.6],[12.6,10.0],[8.1,10.9],[7.8,10.4],[12.9,10.5],[13.5,10.9],[7.4,10.8],
[8.6,9.9],[8.7,10.6],[8.8,9.6],[8.9,10.9],[9.0,9.4],[9.1,11.0],[9.15,9.6],[9.2,10.8],[9.25,9.3],[9.3,10.9],[9.35,9.6],[9.4,11.2],[9.45,9.9],[9.5,10.6],[9.55,9.1],[9.6,10.3],[9.65,11.0],[9.7,9.5],[9.75,10.7],[9.8,9.8],[9.85,9.3],[9.9,10.9],[9.95,9.6],[10.0,11.2],[10.05,9.9],[10.1,10.6],[10.15,9.1],[10.2,10.3],[10.25,11.0],[10.3,9.5],[10.35,10.7],[10.4,9.8],[10.45,9.3],[10.5,10.9],[10.55,9.6],[10.6,11.1],[10.65,9.9],[10.7,10.6],[10.75,9.2],[10.8,10.3],[10.85,10.9],[10.9,9.5],[11.0,10.7],[11.1,9.8],[11.2,9.4],[11.3,10.8],[11.4,9.7],[11.5,10.5],[11.6,9.9],[8.9,10.2],[9.05,10.5],[9.2,10.0],[9.35,10.3],[9.5,9.9],[9.65,10.2],[9.8,10.5],[9.95,10.3],[10.1,10.5],[10.25,10.1],[10.4,10.4],[10.55,10.2],[10.7,10.3],[10.85,10.4],[11.0,10.1],[11.15,10.3],[9.3,9.7],[9.6,9.6],[9.9,9.5],[10.2,9.6],[10.5,9.5],[10.8,9.7],[9.4,10.8],[9.7,10.9],[10.0,10.9],[10.3,11.0],[10.6,10.9],[9.55,10.35],[9.75,10.15],[9.95,10.45],[10.15,10.25],[10.35,10.15],[9.85,10.25],[10.05,10.05],[9.65,10.45],[10.45,10.55],[9.45,10.15],[10.25,10.35],[8.8,10.4],[11.25,10.2],[9.0,10.7],[11.05,10.6]
];

const geTail = [
[10.0,9.2],[9.8,8.8],[10.2,8.4],[9.9,8.0],[10.1,7.6],[9.7,7.3],[10.3,7.0],[10.0,6.7],[9.9,6.4],[10.2,6.1],[9.8,5.8],[10.1,5.5],[10.0,5.2],[9.6,5.0],[10.3,4.8],[9.9,4.6],[10.1,4.4],[10.0,4.2],[9.8,4.0],[10.2,3.8],[10.0,3.6],[9.9,3.4],[10.1,3.2],[10.4,3.0],[9.7,2.8],[10.0,2.6],[10.2,2.3],[9.9,2.1],[10.5,8.9],[9.5,8.6],[10.6,7.8],[9.4,7.5],[10.4,6.6],[9.5,6.2],[10.6,5.7],[9.3,5.3],[10.5,4.9],[9.6,4.5],[10.7,4.1],[9.4,3.9],[10.3,9.5],[9.6,9.4],[10.8,9.3],[9.2,9.0],[10.9,8.6],[9.0,8.2],[11.2,9.0],[8.7,9.3],[10.0,1.9],[9.8,1.7],[10.5,3.4],[9.5,3.1],[11.0,6.8],[9.0,6.9],[11.5,8.0],[8.5,7.7]
];

const geStray = [
[2.0,2.1],[2.3,2.2],[2.6,2.7],[2.9,3.0],[3.2,3.1],[3.5,3.7],[3.8,3.6],[4.1,4.3],[4.5,4.4],[4.9,5.1],[5.3,5.0],[5.7,5.9],[6.2,6.0],[6.6,6.9],[7.1,7.0],[7.6,7.9],[8.1,8.0],[8.6,8.9],[11.5,11.8],[12.5,12.3],[13.5,13.9],[14.5,14.2],[15.5,15.9],[16.5,16.2],[17.5,17.9],[18.5,18.3],[19.3,19.6],[12.0,13.0],[14.0,15.2],[16.0,17.4],[18.0,19.3],[13.0,12.0],[15.0,13.9],[17.0,15.8],[19.0,17.5],[19.3,14.5],[18.8,12.5],[17.5,11.5],[16.0,10.8],[14.0,9.5],[3.8,2.4],[3.4,3.75],[5.0,3.2],[6.0,4.5],[7.0,2.8],[6.4,2.2],[8.0,5.0],[7.5,6.2],[8.5,3.9],[9.0,3.2],[12.5,7.5],[13.5,5.8],[11.5,4.5],[15.5,2.3],[17.0,3.0],[1.5,1.6],[1.7,1.75],[0.7,0.72],[0.6,0.58],[0.5,0.55],[0.45,0.42],[1.0,1.05],[0.9,0.88],[2.4,1.2],[3.0,1.6],[4.5,1.9],[5.8,1.7],[0.63,1.0],[0.63,0.64],[0.64,0.54],[1.13,0.99],[1.26,0.87],[1.22,0.73],[2.6,0.9],[19.3,2.0],[19.3,12.0],[19.2,7.0],
[0.84,1.28],[2.9,1.39],[2.5,1.12],[2.2,1.95],[3.05,0.11],[2.17,0.15],[1.78,0.25],[1.2,0.3],[1.35,0.37],[0.82,0.17],[0.61,0.14]
];

// ---- layout ----
const W = 625, H = 376;
const plot = { left: 78, right: 611, top: 13, bottom: 328 };
const navy = "#1f2f57", yellow = "#f2cc0c";
const red = "#f02358", blue = "#4169e1";

const svg = d3.select("#chart");

// page frame
svg.append("rect").attr("width", W).attr("height", H).attr("fill", navy);
svg.append("path").attr("d", "M0,181 L17,190 L0,199 Z").attr("fill", yellow);
svg.append("rect").attr("x", 15).attr("y", 3).attr("width", 607).attr("height", 385)
  .attr("rx", 9).attr("fill", yellow);
svg.append("rect").attr("x", 23).attr("y", 10).attr("width", 591).attr("height", 356)
  .attr("rx", 3).attr("fill", "#ffffff");

const x = d3.scaleLog().domain(xDomain).range([plot.left, plot.right]);
const y = d3.scaleLog().domain(yDomain).range([plot.bottom, plot.top]);

// minor positions between the decade ticks
const minorOf = (dom) => {
  const out = [];
  [0.1, 1, 10].forEach(d => { for (let m = 2; m <= 9; m++) { const v = d * m; if (v > dom[0] && v < dom[1]) out.push(v); } });
  return out;
};
const xMinor = minorOf(xDomain), yMinor = minorOf(yDomain);

// grid
const grid = svg.append("g");
grid.selectAll(".gxm").data(xMinor).join("line")
  .attr("x1", d => x(d)).attr("x2", d => x(d)).attr("y1", plot.top).attr("y2", plot.bottom)
  .attr("stroke", "#d9d9d9").attr("stroke-width", 0.8).attr("stroke-dasharray", "2,1.2");
grid.selectAll(".gym").data(yMinor).join("line")
  .attr("y1", d => y(d)).attr("y2", d => y(d)).attr("x1", plot.left).attr("x2", plot.right)
  .attr("stroke", "#d9d9d9").attr("stroke-width", 0.8).attr("stroke-dasharray", "2,1.2");
grid.selectAll(".gx").data(xTickValues).join("line")
  .attr("x1", d => x(d)).attr("x2", d => x(d)).attr("y1", plot.top).attr("y2", plot.bottom)
  .attr("stroke", "#c4c4c4").attr("stroke-width", 1);
grid.selectAll(".gy").data(yTickValues).join("line")
  .attr("y1", d => y(d)).attr("y2", d => y(d)).attr("x1", plot.left).attr("x2", plot.right)
  .attr("stroke", "#c4c4c4").attr("stroke-width", 1);

// clip region for data
svg.append("clipPath").attr("id", "clip").append("rect")
  .attr("x", plot.left).attr("y", plot.top)
  .attr("width", plot.right - plot.left).attr("height", plot.bottom - plot.top);
const data = svg.append("g").attr("clip-path", "url(#clip)");

function dots(arr, color, op) {
  data.append("g").selectAll("circle").data(arr).join("circle")
    .attr("cx", d => x(d[0])).attr("cy", d => y(d[1])).attr("r", 1.35)
    .attr("fill", color).attr("fill-opacity", op);
}
dots(ambeBand, red, 0.7);
dots(ambeBandMore, red, 0.7);
dots(ambeLow, red, 0.7);
dots(ambeStray, red, 0.7);
dots(geLow, blue, 0.68);
dots(geLine13, blue, 0.68);
dots(geLine10, blue, 0.68);
dots(geTail, blue, 0.68);
dots(geStray, blue, 0.68);

const line = d3.line().x(d => x(d[0])).y(d => y(d[1]));
data.append("path").datum(qOneER.map((e, i) => [e, qOneEion[i]]))
  .attr("d", line).attr("fill", "none").attr("stroke", "#7a7a7a")
  .attr("stroke-width", 2.2).attr("stroke-dasharray", "7.4,3.2");
data.append("path").datum(lindhardER.map((e, i) => [e, lindhardEion[i]]))
  .attr("d", line.curve(d3.curveMonotoneX)).attr("fill", "none").attr("stroke", "#000")
  .attr("stroke-width", 2);

// spines
svg.append("rect").attr("x", plot.left).attr("y", plot.top)
  .attr("width", plot.right - plot.left).attr("height", plot.bottom - plot.top)
  .attr("fill", "none").attr("stroke", "#000").attr("stroke-width", 1);

// axes
const fmtX = d => xTickLabels[xTickValues.indexOf(d)];
const fmtY = d => yTickLabels[yTickValues.indexOf(d)];
svg.append("g").attr("transform", `translate(0,${plot.bottom})`)
  .call(d3.axisBottom(x).tickValues(xTickValues).tickFormat(fmtX).tickSize(3.5).tickPadding(3));
svg.append("g").attr("transform", `translate(0,${plot.bottom})`)
  .call(d3.axisBottom(x).tickValues(xMinor).tickFormat("").tickSize(2));
svg.append("g").attr("transform", `translate(${plot.left},0)`)
  .call(d3.axisLeft(y).tickValues(yTickValues).tickFormat(fmtY).tickSize(3.5).tickPadding(3));
svg.append("g").attr("transform", `translate(${plot.left},0)`)
  .call(d3.axisLeft(y).tickValues(yMinor).tickFormat("").tickSize(2));
svg.selectAll(".domain").remove();
svg.selectAll(".tick line").attr("stroke", "#000").attr("stroke-width", 0.8);
svg.selectAll(".tick text").attr("font-family", "DejaVu Sans, sans-serif")
  .attr("font-size", 13.4).attr("fill", "#111");

// axis titles
const xt = svg.append("text").attr("x", (plot.left + plot.right) / 2).attr("y", 364)
  .attr("text-anchor", "middle").attr("font-size", 14).attr("fill", "#111");
xt.append("tspan").text("Recoil Energy, ");
xt.append("tspan").attr("font-style", "italic").text("E");
xt.append("tspan").attr("font-style", "italic").attr("font-size", 9.8).attr("dy", 3).text("R");
xt.append("tspan").attr("dy", -3).text(" [keV]");

const yt = svg.append("text")
  .attr("transform", `translate(40,${(plot.top + plot.bottom) / 2}) rotate(-90)`)
  .attr("text-anchor", "middle").attr("font-size", 14).attr("fill", "#111");
yt.append("tspan").text("Ionization Energy, ");
yt.append("tspan").attr("font-style", "italic").text("E");
yt.append("tspan").attr("font-style", "italic").attr("font-size", 9.8).attr("dy", 3).text("ion");
yt.append("tspan").attr("dy", -3).text(" [keV");
yt.append("tspan").attr("font-size", 9.8).attr("dy", 3).text("ee");
yt.append("tspan").attr("dy", -3).text("]");

// annotations
svg.append("text").attr("x", 115).attr("y", 42).attr("font-size", 13).attr("fill", "#111")
  .text("RICOCHET preliminary");
svg.append("text").attr("x", 115).attr("y", 60).attr("font-size", 10).attr("fill", "#111")
  .text("Planar 40g + HEMT");

// legend
const lg = svg.append("g");
lg.append("rect").attr("x", 106).attr("y", 96).attr("width", 138).attr("height", 76).attr("rx", 3)
  .attr("fill", "#fff").attr("fill-opacity", 0.85).attr("stroke", "#cccccc").attr("stroke-width", 1);
const legendItems = [
  { label: "AmBe neutron", kind: "dot", color: red },
  { label: "Ge", kind: "dot", color: blue, sup: "71" },
  { label: "Lindhard", kind: "line", color: "#000" },
  { label: "Q=1", kind: "dash", color: "#7a7a7a" }
];
legendItems.forEach((it, i) => {
  const cy = 106 + i * 18.7;
  if (it.kind === "dot") {
    lg.append("circle").attr("cx", 123).attr("cy", cy).attr("r", 1.4).attr("fill", it.color);
  } else {
    lg.append("line").attr("x1", 110).attr("x2", 135).attr("y1", cy).attr("y2", cy)
      .attr("stroke", it.color).attr("stroke-width", it.kind === "line" ? 2 : 2.2)
      .attr("stroke-dasharray", it.kind === "dash" ? "7.4,3.2" : null);
  }
  const t = lg.append("text").attr("x", 146).attr("y", cy + 4.6).attr("font-size", 12.5).attr("fill", "#111");
  if (it.sup) {
    t.append("tspan").attr("font-size", 8.8).attr("dy", -5).text(it.sup);
    t.append("tspan").attr("dy", 5).text(it.label);
  } else {
    t.text(it.label);
  }
});
</script>
</body>
</html>
